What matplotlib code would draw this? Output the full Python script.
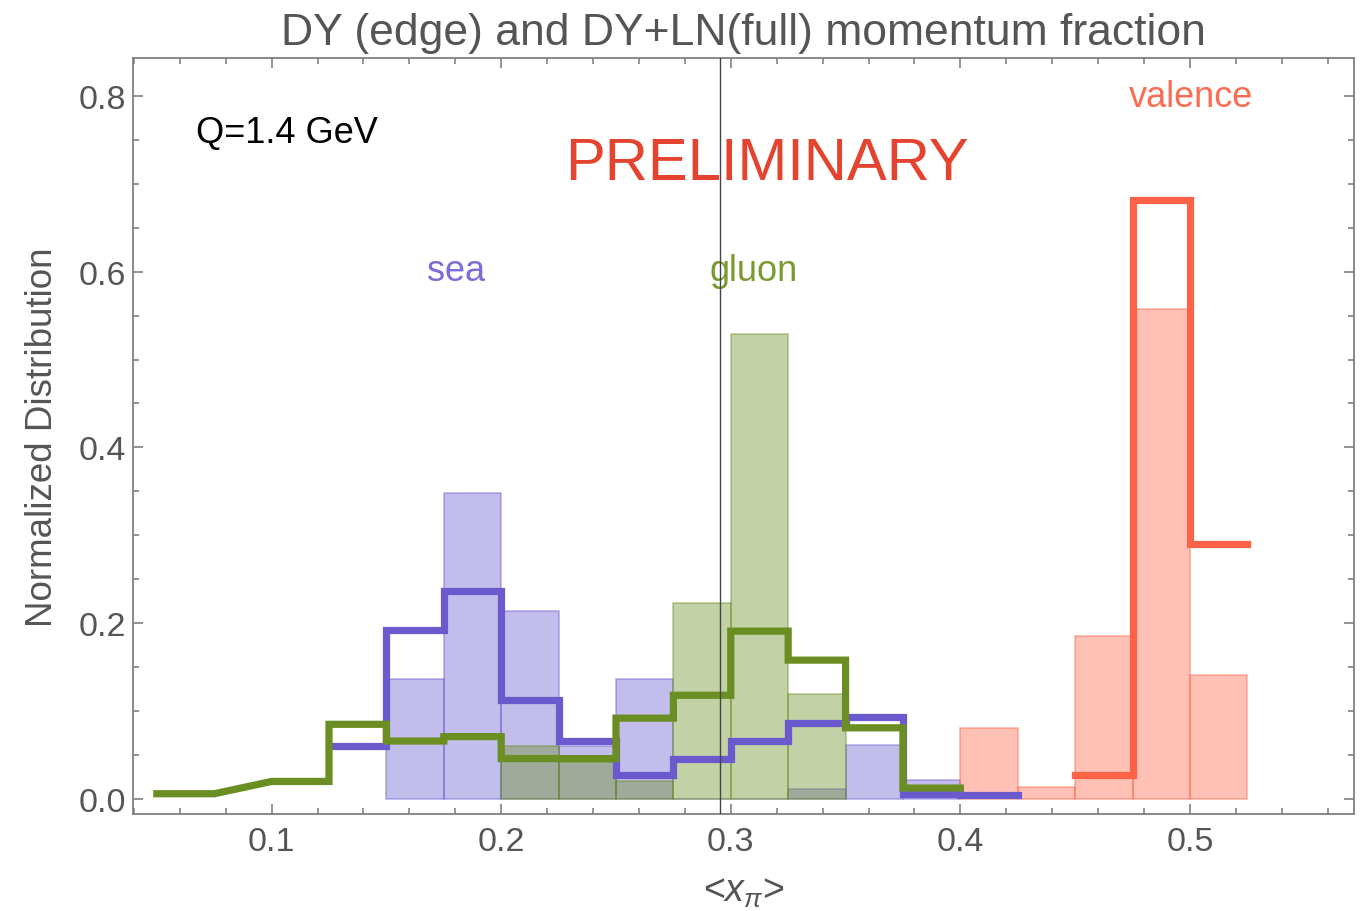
import matplotlib
matplotlib.use("Agg")
import matplotlib.pyplot as plt
from matplotlib.ticker import MultipleLocator, FormatStrFormatter

plt.rcParams['font.family'] = ['Liberation Sans', 'DejaVu Sans']
plt.rcParams['mathtext.fontset'] = 'custom'
plt.rcParams['mathtext.it'] = 'Liberation Sans:italic'
plt.rcParams['mathtext.rm'] = 'Liberation Sans'

# ---------------- data ----------------
bin_width = 0.025

# histogram bars (DY edge)
sea_bar_left = [0.150, 0.175, 0.200, 0.225, 0.250, 0.275, 0.300, 0.325, 0.350, 0.375]
sea_bar_vals = [0.137, 0.348, 0.214, 0.060, 0.137, 0.000, 0.000, 0.011, 0.062, 0.022]

gluon_bar_left = [0.200, 0.225, 0.250, 0.275, 0.300, 0.325]
gluon_bar_vals = [0.060, 0.042, 0.021, 0.223, 0.529, 0.119]

valence_bar_left = [0.400, 0.425, 0.450, 0.475, 0.500]
valence_bar_vals = [0.081, 0.0135, 0.185, 0.557, 0.141]

# step lines (DY+LN full)
sea_line_left = [0.125, 0.150, 0.175, 0.200, 0.225, 0.250, 0.275, 0.300,
                 0.325, 0.350, 0.375, 0.400]
sea_line_vals = [0.060, 0.192, 0.237, 0.113, 0.066, 0.027, 0.046, 0.066,
                 0.086, 0.093, 0.006, 0.005]

gluon_line_left = [0.050, 0.100, 0.125, 0.150, 0.175, 0.200, 0.225, 0.250,
                   0.275, 0.300, 0.325, 0.350, 0.375]
gluon_line_vals = [0.006, 0.020, 0.085, 0.066, 0.071, 0.046, 0.046, 0.092,
                   0.118, 0.191, 0.158, 0.081, 0.0125]

valence_line_left = [0.450, 0.475, 0.500]
valence_line_vals = [0.027, 0.682, 0.290]

mean_x = 0.2955

x_ticks = [0.1, 0.2, 0.3, 0.4, 0.5]
y_ticks = [0.0, 0.2, 0.4, 0.6, 0.8]

SEA = '#6A5ACD'
GLUON = '#6B8E23'
VAL = '#FF6347'


def step_path(lefts, vals, w):
    xs, ys = [], []
    for l, v in zip(lefts, vals):
        xs += [l, l + w]
        ys += [v, v]
    return xs, ys


fig = plt.figure(figsize=(13.65, 9.12), dpi=100)
ax = fig.add_axes([0.0974, 0.1064, 0.8946, 0.8289])

# bars
for lefts, vals, col in [(sea_bar_left, sea_bar_vals, SEA),
                         (gluon_bar_left, gluon_bar_vals, GLUON),
                         (valence_bar_left, valence_bar_vals, VAL)]:
    ax.bar(lefts, vals, width=bin_width, align='edge',
           color=matplotlib.colors.to_rgba(col, 0.4),
           edgecolor=matplotlib.colors.to_rgba(col, 0.45), linewidth=1.2,
           zorder=2)

# step lines
for lefts, vals, col in [(sea_line_left, sea_line_vals, SEA),
                         (gluon_line_left, gluon_line_vals, GLUON),
                         (valence_line_left, valence_line_vals, VAL)]:
    xs, ys = step_path(lefts, vals, bin_width)
    ax.plot(xs, ys, color=col, lw=5.2, solid_capstyle='projecting',
            solid_joinstyle='miter', zorder=3)

ax.axvline(mean_x, color='#444444', lw=1.0, zorder=4)

ax.set_xlim(0.0396, 0.5715)
ax.set_ylim(-0.017, 0.843)

ax.xaxis.set_minor_locator(MultipleLocator(0.02))
ax.yaxis.set_minor_locator(MultipleLocator(0.05))
ax.set_xticks(x_ticks)
ax.set_yticks(y_ticks)
ax.xaxis.set_major_formatter(FormatStrFormatter('%.1f'))
ax.yaxis.set_major_formatter(FormatStrFormatter('%.1f'))

ax.tick_params(which='both', direction='in', top=True, right=True,
               color='#808080', width=1.2)
ax.tick_params(which='major', length=7.2, labelsize=24.5, labelcolor='#555555')
ax.tick_params(which='minor', length=4.0)
ax.tick_params(axis='x', which='major', pad=9)
ax.tick_params(axis='y', which='major', pad=5)

for s in ax.spines.values():
    s.set_color('#808080')
    s.set_linewidth(1.3)

ax.set_title('DY (edge) and DY+LN(full) momentum fraction', fontsize=32,
             color='#555555', pad=10)
ax.set_ylabel('Normalized Distribution', fontsize=26.5, color='#555555',
              labelpad=13)
ax.set_xlabel(r'<$x_\pi$>', fontsize=27, color='#555555', labelpad=11)

ax.text(0.1065, 0.7477, 'Q=1.4 GeV', fontsize=26, color='black',
        ha='center', va='baseline')
ax.text(0.3159, 0.7055, 'PRELIMINARY', fontsize=43, color='#E4442F',
        ha='center', va='baseline')
ax.text(0.1802, 0.5906, 'sea', fontsize=26, color='#7B6CDB',
        ha='center', va='baseline')
ax.text(0.3098, 0.5906, 'gluon', fontsize=26, color='#7A9A30',
        ha='center', va='baseline')
ax.text(0.5003, 0.7886, 'valence', fontsize=26, color='#FF6B50',
        ha='center', va='baseline')

fig.savefig('out.png', dpi=100)
